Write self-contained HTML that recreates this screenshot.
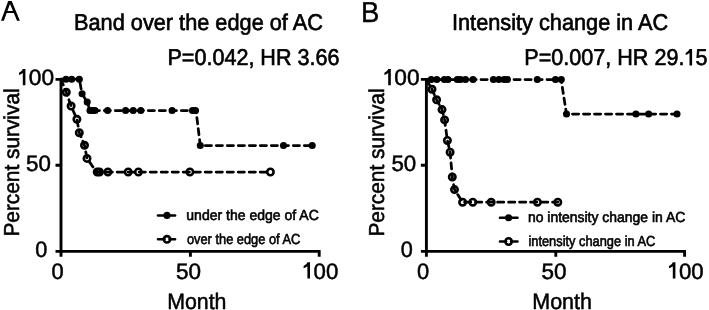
<!DOCTYPE html>
<html><head><meta charset="utf-8"><style>
html,body{margin:0;padding:0;background:#fff;width:709px;height:310px;overflow:hidden}
svg{display:block;will-change:transform}
text{font-family:"Liberation Sans", sans-serif;fill:#000;text-rendering:geometricPrecision}
</style></head><body>
<svg width="709" height="310" viewBox="0 0 709 310">
<path d="M61,78.1 V256.8 M55.5,251.4 H320.6 M55.5,79.4 H61 M55.5,165.2 H61 M190.4,251.4 V256.8 M319.2,251.4 V256.8" stroke="#000" stroke-width="2.9" fill="none"/>
<path d="M426.4,78.1 V256.8 M420.9,251.4 H686 M420.9,79.4 H426.4 M420.9,165.2 H426.4 M555.8,251.4 V256.8 M684.6,251.4 V256.8" stroke="#000" stroke-width="2.9" fill="none"/>
<path d="M61,79.2 L66.3,92.3 L71.1,106.0 L76.9,119.3 L79.3,132.7 L84.5,145.3 L87.0,158.4 L96.5,172 L270.4,172" fill="none" stroke="#000" stroke-width="2.75" stroke-linecap="round" stroke-linejoin="round" stroke-dasharray="6.2 4.8"/>
<circle cx="66.3" cy="92.3" r="3.2" fill="none" stroke="#000" stroke-width="2.6"/>
<circle cx="71.1" cy="106.0" r="3.2" fill="none" stroke="#000" stroke-width="2.6"/>
<circle cx="76.9" cy="119.3" r="3.2" fill="none" stroke="#000" stroke-width="2.6"/>
<circle cx="79.3" cy="132.7" r="3.2" fill="none" stroke="#000" stroke-width="2.6"/>
<circle cx="84.5" cy="145.3" r="3.2" fill="none" stroke="#000" stroke-width="2.6"/>
<circle cx="87.0" cy="158.4" r="3.2" fill="none" stroke="#000" stroke-width="2.6"/>
<circle cx="97.2" cy="172" r="3.2" fill="none" stroke="#000" stroke-width="2.6"/>
<circle cx="99.5" cy="172" r="3.2" fill="none" stroke="#000" stroke-width="2.6"/>
<circle cx="107.9" cy="172" r="3.2" fill="none" stroke="#000" stroke-width="2.6"/>
<circle cx="128.2" cy="172" r="3.2" fill="none" stroke="#000" stroke-width="2.6"/>
<circle cx="138.4" cy="172" r="3.2" fill="none" stroke="#000" stroke-width="2.6"/>
<circle cx="189.9" cy="172" r="3.2" fill="none" stroke="#000" stroke-width="2.6"/>
<circle cx="270.4" cy="172" r="3.2" fill="none" stroke="#000" stroke-width="2.6"/>
<path d="M61,79.2 L79.3,79.2 L82.1,93.8 L87.2,102.1 L90,110.5 L196,110.5 L200.3,145.5 L312.2,145.5" fill="none" stroke="#000" stroke-width="2.75" stroke-linecap="round" stroke-linejoin="round" stroke-dasharray="6.2 4.8"/>
<circle cx="66" cy="79.2" r="3.55" fill="#000"/>
<circle cx="71.7" cy="79.2" r="3.55" fill="#000"/>
<circle cx="79.3" cy="79.2" r="3.55" fill="#000"/>
<circle cx="82.1" cy="93.8" r="3.55" fill="#000"/>
<circle cx="87.2" cy="102.1" r="3.55" fill="#000"/>
<circle cx="90" cy="110.5" r="3.55" fill="#000"/>
<circle cx="92.5" cy="110.5" r="3.55" fill="#000"/>
<circle cx="95" cy="110.5" r="3.55" fill="#000"/>
<circle cx="107.6" cy="110.5" r="3.55" fill="#000"/>
<circle cx="125.6" cy="110.5" r="3.55" fill="#000"/>
<circle cx="133.2" cy="110.5" r="3.55" fill="#000"/>
<circle cx="140.8" cy="110.5" r="3.55" fill="#000"/>
<circle cx="172.1" cy="110.5" r="3.55" fill="#000"/>
<circle cx="192.5" cy="110.5" r="3.55" fill="#000"/>
<circle cx="195.5" cy="110.5" r="3.55" fill="#000"/>
<circle cx="200.3" cy="145.5" r="3.55" fill="#000"/>
<circle cx="283.5" cy="145.5" r="3.55" fill="#000"/>
<circle cx="312.2" cy="145.5" r="3.55" fill="#000"/>
<path d="M426.4,79.5 L432,89.3 L436.6,99.8 L442,109.6 L444.6,119.9 L447.4,140.5 L450.1,152.2 L452.3,177 L454.5,189.6 L462.6,202.2 L557.8,202.2" fill="none" stroke="#000" stroke-width="2.75" stroke-linecap="round" stroke-linejoin="round" stroke-dasharray="6.2 4.8"/>
<circle cx="432" cy="89.3" r="3.2" fill="none" stroke="#000" stroke-width="2.6"/>
<circle cx="436.6" cy="99.8" r="3.2" fill="none" stroke="#000" stroke-width="2.6"/>
<circle cx="442" cy="109.6" r="3.2" fill="none" stroke="#000" stroke-width="2.6"/>
<circle cx="444.6" cy="119.9" r="3.2" fill="none" stroke="#000" stroke-width="2.6"/>
<circle cx="447.4" cy="140.5" r="3.2" fill="none" stroke="#000" stroke-width="2.6"/>
<circle cx="450.1" cy="152.2" r="3.2" fill="none" stroke="#000" stroke-width="2.6"/>
<circle cx="452.3" cy="177" r="3.2" fill="none" stroke="#000" stroke-width="2.6"/>
<circle cx="454.5" cy="189.6" r="3.2" fill="none" stroke="#000" stroke-width="2.6"/>
<circle cx="462.6" cy="202.2" r="3.2" fill="none" stroke="#000" stroke-width="2.6"/>
<circle cx="472.8" cy="202.2" r="3.2" fill="none" stroke="#000" stroke-width="2.6"/>
<circle cx="491.2" cy="202.2" r="3.2" fill="none" stroke="#000" stroke-width="2.6"/>
<circle cx="537.4" cy="202.2" r="3.2" fill="none" stroke="#000" stroke-width="2.6"/>
<circle cx="557.8" cy="202.2" r="3.2" fill="none" stroke="#000" stroke-width="2.6"/>
<path d="M426,79.5 L561.1,79.5 L566.5,114.0 L677,114.0" fill="none" stroke="#000" stroke-width="2.75" stroke-linecap="round" stroke-linejoin="round" stroke-dasharray="6.2 4.8"/>
<circle cx="431.2" cy="79.5" r="3.55" fill="#000"/>
<circle cx="436.8" cy="79.5" r="3.55" fill="#000"/>
<circle cx="444.3" cy="79.5" r="3.55" fill="#000"/>
<circle cx="448" cy="79.5" r="3.55" fill="#000"/>
<circle cx="457.3" cy="79.5" r="3.55" fill="#000"/>
<circle cx="460.5" cy="79.5" r="3.55" fill="#000"/>
<circle cx="465.5" cy="79.5" r="3.55" fill="#000"/>
<circle cx="473" cy="79.5" r="3.55" fill="#000"/>
<circle cx="493.4" cy="79.5" r="3.55" fill="#000"/>
<circle cx="498.9" cy="79.5" r="3.55" fill="#000"/>
<circle cx="504.2" cy="79.5" r="3.55" fill="#000"/>
<circle cx="507.3" cy="79.5" r="3.55" fill="#000"/>
<circle cx="537.3" cy="79.5" r="3.55" fill="#000"/>
<circle cx="555.5" cy="79.5" r="3.55" fill="#000"/>
<circle cx="561.3" cy="79.5" r="3.55" fill="#000"/>
<circle cx="566.5" cy="114.0" r="3.55" fill="#000"/>
<circle cx="635.9" cy="114.0" r="3.55" fill="#000"/>
<circle cx="648.6" cy="114.0" r="3.55" fill="#000"/>
<circle cx="677" cy="114.0" r="3.55" fill="#000"/>
<path d="M158,215.4 H175.1" stroke="#000" stroke-width="2.55" stroke-linecap="round"/>
<circle cx="167" cy="215.4" r="3.55" fill="#000"/>
<path d="M158,239.3 H164.5 M169.5,239.3 H175.1" stroke="#000" stroke-width="2.55" stroke-linecap="round"/>
<circle cx="167" cy="239.3" r="3.2" fill="none" stroke="#000" stroke-width="2.6"/>
<path d="M500,217.8 H517.5" stroke="#000" stroke-width="2.55" stroke-linecap="round"/>
<circle cx="508.6" cy="217.8" r="3.55" fill="#000"/>
<path d="M500,241.5 H506.1 M511.1,241.5 H517.5" stroke="#000" stroke-width="2.55" stroke-linecap="round"/>
<circle cx="508.6" cy="241.5" r="3.2" fill="none" stroke="#000" stroke-width="2.6"/>
<path fill-rule="evenodd" d="M1.0,20.7 L8.2,1.0 L11.7,1.0 L19.9,20.7 L17.0,20.7 L13.84,13.1 L6.67,13.1 L3.9,20.7 Z M10.0,3.94 L12.96,11.0 L7.44,11.0 Z" fill="#000"/>
<text x="361.09" y="21.7" font-size="28.8" text-anchor="start" textLength="18.38" lengthAdjust="spacingAndGlyphs" stroke="#000" stroke-width="0.4">B</text>
<text x="73.99" y="29.5" font-size="22.8" text-anchor="start" textLength="248.95" lengthAdjust="spacingAndGlyphs" stroke="#000" stroke-width="0.65">Band over the edge of AC</text>
<text x="167.51" y="64.7" font-size="22.8" text-anchor="start" textLength="171.92" lengthAdjust="spacingAndGlyphs" stroke="#000" stroke-width="0.65">P=0.042, HR 3.66</text>
<text x="451.99" y="30.1" font-size="22.8" text-anchor="start" textLength="216.23" lengthAdjust="spacingAndGlyphs" stroke="#000" stroke-width="0.65">Intensity change in AC</text>
<text x="524.31" y="65.4" font-size="22.8" text-anchor="start" textLength="160.16" lengthAdjust="spacingAndGlyphs" stroke="#000" stroke-width="0.65">P=0.007, HR 29.</text>
<text x="695.45" y="65.4" font-size="22.8" text-anchor="start" textLength="12.0" lengthAdjust="spacingAndGlyphs" stroke="#000" stroke-width="0.65">5</text>
<text x="186.33" y="219.6" font-size="14.5" text-anchor="start" textLength="132.43" lengthAdjust="spacingAndGlyphs" stroke="#000" stroke-width="0.6">under the edge of AC</text>
<text x="186.9" y="243.7" font-size="14.5" text-anchor="start" textLength="113.45" lengthAdjust="spacingAndGlyphs" stroke="#000" stroke-width="0.6">over the edge of AC</text>
<text x="527.94" y="221.7" font-size="14.5" text-anchor="start" textLength="157.32" lengthAdjust="spacingAndGlyphs" stroke="#000" stroke-width="0.6">no intensity change in AC</text>
<text x="528.42" y="245.5" font-size="14.5" text-anchor="start" textLength="126.91" lengthAdjust="spacingAndGlyphs" stroke="#000" stroke-width="0.6">intensity change in AC</text>
<path d="M689.50,48.90 L692.10,48.90 L692.10,65.50 L689.50,65.50 L689.50,52.97 C688.30,53.88 686.90,54.54 685.70,54.96 L685.70,52.72 C687.30,52.05 688.80,50.56 689.50,48.90 Z" fill="#000"/>
<text x="28.88" y="85.3" font-size="22.3" text-anchor="start" textLength="25.24" lengthAdjust="spacingAndGlyphs" stroke="#000" stroke-width="0.5">00</text>
<text x="26.0" y="170.9" font-size="22.3" text-anchor="start" textLength="24.81" lengthAdjust="spacingAndGlyphs" stroke="#000" stroke-width="0.5">50</text>
<text x="35.33" y="257.0" font-size="22.3" text-anchor="start" textLength="12.07" lengthAdjust="spacingAndGlyphs" stroke="#000" stroke-width="0.5">0</text>
<text x="51.62" y="278.5" font-size="22.3" text-anchor="start" textLength="12.18" lengthAdjust="spacingAndGlyphs" stroke="#000" stroke-width="0.5">0</text>
<text x="176.09" y="278.5" font-size="22.3" text-anchor="start" textLength="25.03" lengthAdjust="spacingAndGlyphs" stroke="#000" stroke-width="0.5">50</text>
<text x="313.6" y="278.6" font-size="22.3" text-anchor="start" textLength="24.7" lengthAdjust="spacingAndGlyphs" stroke="#000" stroke-width="0.5">00</text>
<path d="M22.80,69.00 L25.40,69.00 L25.40,85.30 L22.80,85.30 L22.80,72.99 C21.60,73.89 20.20,74.54 19.00,74.95 L19.00,72.75 C20.60,72.10 22.10,70.63 22.80,69.00 Z" fill="#000"/>
<path d="M307.40,262.30 L310.00,262.30 L310.00,278.60 L307.40,278.60 L307.40,266.29 C306.20,267.19 304.80,267.84 303.60,268.25 L303.60,266.05 C305.20,265.40 306.70,263.93 307.40,262.30 Z" fill="#000"/>
<text x="394.28" y="85.3" font-size="22.3" text-anchor="start" textLength="25.24" lengthAdjust="spacingAndGlyphs" stroke="#000" stroke-width="0.5">00</text>
<text x="391.4" y="170.9" font-size="22.3" text-anchor="start" textLength="24.81" lengthAdjust="spacingAndGlyphs" stroke="#000" stroke-width="0.5">50</text>
<text x="400.73" y="257.0" font-size="22.3" text-anchor="start" textLength="12.07" lengthAdjust="spacingAndGlyphs" stroke="#000" stroke-width="0.5">0</text>
<text x="417.02" y="278.5" font-size="22.3" text-anchor="start" textLength="12.18" lengthAdjust="spacingAndGlyphs" stroke="#000" stroke-width="0.5">0</text>
<text x="541.49" y="278.5" font-size="22.3" text-anchor="start" textLength="25.03" lengthAdjust="spacingAndGlyphs" stroke="#000" stroke-width="0.5">50</text>
<text x="679.0" y="278.6" font-size="22.3" text-anchor="start" textLength="24.7" lengthAdjust="spacingAndGlyphs" stroke="#000" stroke-width="0.5">00</text>
<path d="M388.20,69.00 L390.80,69.00 L390.80,85.30 L388.20,85.30 L388.20,72.99 C387.00,73.89 385.60,74.54 384.40,74.95 L384.40,72.75 C386.00,72.10 387.50,70.63 388.20,69.00 Z" fill="#000"/>
<path d="M672.80,262.30 L675.40,262.30 L675.40,278.60 L672.80,278.60 L672.80,266.29 C671.60,267.19 670.20,267.84 669.00,268.25 L669.00,266.05 C670.60,265.40 672.10,263.93 672.80,262.30 Z" fill="#000"/>
<text x="167.19" y="308.5" font-size="22.3" text-anchor="start" textLength="59.25" lengthAdjust="spacingAndGlyphs" stroke="#000" stroke-width="0.5">Month</text>
<text x="532.27" y="308.5" font-size="22.3" text-anchor="start" textLength="59.67" lengthAdjust="spacingAndGlyphs" stroke="#000" stroke-width="0.5">Month</text>
<text transform="translate(18.9,236.56) rotate(-90)" font-size="21.6" textLength="148.17" lengthAdjust="spacingAndGlyphs" stroke="#000" stroke-width="0.55">Percent survival</text>
<text transform="translate(384.3,236.56) rotate(-90)" font-size="21.6" textLength="148.17" lengthAdjust="spacingAndGlyphs" stroke="#000" stroke-width="0.55">Percent survival</text>
</svg></body></html>
